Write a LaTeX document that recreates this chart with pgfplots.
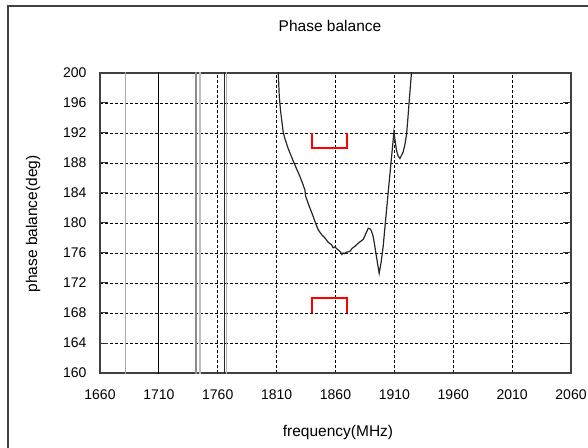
\documentclass[border=0pt]{standalone}
\usepackage{pgfplots}
\pgfplotsset{compat=1.18}
\usepackage{fontspec}
\setmainfont{Liberation Sans}
\newcommand{\fs}{\fontsize{14}{16}\selectfont}
\newcommand{\fl}{\fontsize{15.5}{18}\selectfont}
\begin{document}
\begin{tikzpicture}[x=1pt,y=1pt]
\useasboundingbox (0,0) rectangle (588,447);
\draw[line width=1.4pt, black!75] (8,-5) -- (8,441) -- (600,441);
\node[font=\fl] at (330,421) {Phase balance};
\node[font=\fl, rotate=90] at (33,223) {phase balance(deg)};
\node[font=\fl] at (338,15) {frequency(MHz)};
\begin{axis}[
  at={(100pt,74pt)}, anchor=south west,
  scale only axis, width=471pt, height=300pt,
  xmin=1660, xmax=2060, ymin=160, ymax=200,
  xtick={1660,1710,...,2060}, ytick={160,164,...,200},
  /pgf/number format/assume math mode=true,
  /pgf/number format/set thousands separator={},
  ticklabel style={font=\fs},
  xticklabel style={yshift=-13pt},
  yticklabel style={xshift=-10pt},
  tick align=inside, major tick length=8pt,
  tick style={black!80, line width=1pt},
  xtick style={draw=none},
  axis line style={black!75, line width=1.3pt},
  grid=major,
  major grid style={black, line width=0.9pt, dash pattern=on 3pt off 2pt},
  clip=true,
]
% off-scale wrap lines
\addplot[gray!70, line width=1.3pt] coordinates {(1681.8,150) (1681.8,210)};
\addplot[black, line width=1.2pt] coordinates {(1710,150) (1710,210)};
\addplot[gray!90, line width=1.3pt] coordinates {(1741.6,150) (1741.6,210)};
\addplot[gray!50, line width=1.3pt] coordinates {(1744.8,150) (1744.8,210)};
\addplot[black!85, line width=1.3pt] coordinates {(1766.0,150) (1766.0,210)};
\addplot[gray!60, line width=1.3pt] coordinates {(1767.6,150) (1767.6,210)};
% main curve
\addplot[black!85, line width=1.2pt] coordinates {
(1810.9,204) (1811.4,200) (1812.2,197) (1813.3,195.0) (1815.6,192.1) (1817.5,191.0)
(1819.9,189.9) (1824,188.3) (1827,187.2) (1829.8,186.2) (1832,185.3) (1834,184.4)
(1834.6,183.6) (1836.8,182.6) (1839,181.7) (1841,180.9) (1843,180.0) (1845.3,179.1)
(1848,178.5) (1851,178.0) (1854,177.4) (1856.7,177.1) (1858,176.7) (1859.5,176.8) (1862.3,176.4)
(1864.5,176.1) (1865.5,175.8) (1866.5,176.0) (1867.5,175.9) (1869,176.1) (1872.2,176.2) (1874,176.6) (1876.5,176.9)
(1880,177.4) (1883.5,177.8) (1885.5,178.5) (1887.8,179.3) (1889.5,179.2) (1890.6,178.9)
(1892,178.2) (1893.4,176.9) (1895.5,174.8) (1897.1,173.3) (1898.8,174.8) (1900.5,176.9)
(1902.5,180.3) (1904.7,184.0) (1906.2,186.5) (1907.6,188.8) (1909.6,192.1) (1910.6,191.0)
(1911.8,189.7) (1913,189.0) (1914.7,188.6) (1916,189.0) (1917.5,189.5) (1919,190.5)
(1920.4,191.9) (1921.5,194) (1922.6,196.3) (1924.5,200) (1925.2,203)
};
% spec brackets
\addplot[red, line width=1.6pt] coordinates {(1840,192) (1840,190) (1870,190) (1870,192)};
\addplot[red, line width=1.6pt] coordinates {(1840,168) (1840,170) (1870,170) (1870,168)};
\end{axis}
\end{tikzpicture}
\end{document}
